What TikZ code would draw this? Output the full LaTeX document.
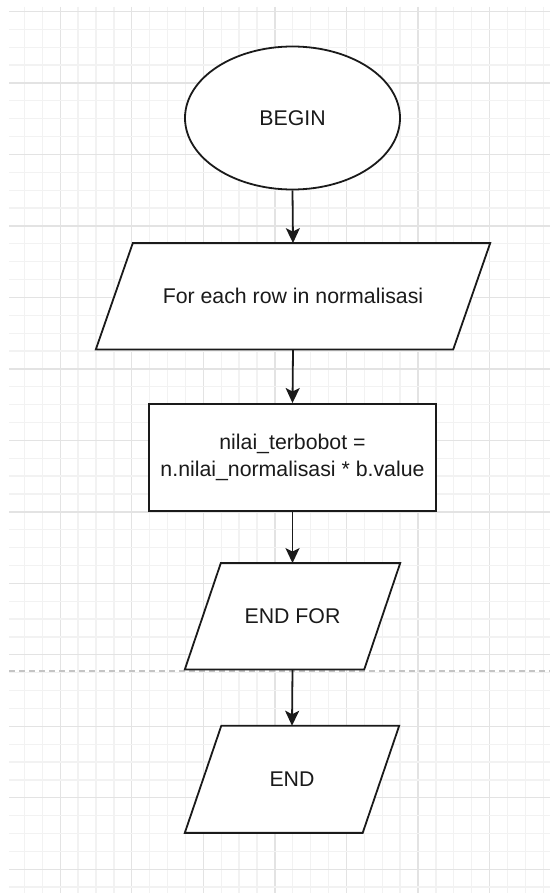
\documentclass[tikz,border=0pt]{standalone}
\usepackage{fontspec}
\setmainfont{Liberation Sans}
\usetikzlibrary{arrows.meta,shapes.geometric,calc}

\definecolor{majorgrid}{HTML}{E3E3E3}
\definecolor{minorgrid}{HTML}{F2F2F2}
\definecolor{pagebreak}{HTML}{C4C4C4}
\definecolor{ink}{HTML}{1A1A1A}

\pgfdeclarelayer{grid}
\pgfdeclarelayer{outline}
\pgfsetlayers{grid,outline,main}

\tikzset{
  shapeline/.style={draw=ink, line width=1.8pt, fill=white, line join=miter},
  label text/.style={text=ink, font=\fontsize{21.3}{26.7}\selectfont, align=center, inner sep=0pt},
  terminator/.style={ellipse, shapeline, label text},
  process/.style={rectangle, shapeline, label text},
  iobox/.style={rectangle, draw=none, label text},
  flow/.style={draw=ink, line width=1.8pt, -{Stealth[length=15pt, width=14pt, inset=3.5pt]}},
}

% parallelogram outline around a named node, slanted by #2
\newcommand{\slantbox}[2]{%
  \begin{pgfonlayer}{outline}
    \path[shapeline] ([xshift=#2]#1.north west) -- (#1.north east)
      -- ([xshift=-#2]#1.south east) -- (#1.south west) -- cycle;
  \end{pgfonlayer}}

\begin{document}
\begin{tikzpicture}[x=1pt, y=-1pt]
  \useasboundingbox (0,0) rectangle (550,893);

  % background grid
  \begin{pgfonlayer}{grid}
    \fill[white] (0,0) rectangle (550,893);
    \foreach \i in {1,...,30} {
      \pgfmathsetmacro\gx{6.53+17.89*\i}
      \pgfmathtruncatemacro\gm{mod(\i,4)}
      \ifnum\gm=3 \def\gc{majorgrid}\else\def\gc{minorgrid}\fi
      \draw[\gc, line width=1.3pt] (\gx,7) -- (\gx,893);
    }
    \foreach \j in {0,...,49} {
      \pgfmathsetmacro\gy{11.5+17.87*\j}
      \pgfmathtruncatemacro\gm{mod(\j,4)}
      \ifnum\gm=0 \def\gc{majorgrid}\else\def\gc{minorgrid}\fi
      \draw[\gc, line width=1.3pt] (9,\gy) -- (550,\gy);
    }
    % page break
    \draw[pagebreak, line width=1.2pt, dash pattern=on 6pt off 4pt] (9,671) -- (550,671);
  \end{pgfonlayer}

  % flowchart nodes
  \node[terminator, minimum width=215, minimum height=143] (begin) at (292.5,118) {BEGIN};
  \node[iobox, minimum width=394, minimum height=106] (loop) at (293,296.3) {For each row in normalisasi};
  \node[process, minimum width=286.4, minimum height=106.7] (calc) at (292.5,457.3)
    {nilai\_terbobot =\\n.nilai\_normalisasi * b.value};
  \node[iobox, minimum width=215, minimum height=106] (endfor) at (292.5,616.3) {END FOR};
  \node[iobox, minimum width=214, minimum height=106.7] (end) at (292,779.3) {END};

  \slantbox{loop}{37pt}
  \slantbox{endfor}{36pt}
  \slantbox{end}{36.5pt}

  % connectors
  \draw[flow] (begin.south) -- (loop.north);
  \draw[flow] (loop.south) -- (calc.north);
  \draw[flow] (calc.south) -- (endfor.north);
  \draw[flow] (endfor.south) -- (end.north);
\end{tikzpicture}
\end{document}
